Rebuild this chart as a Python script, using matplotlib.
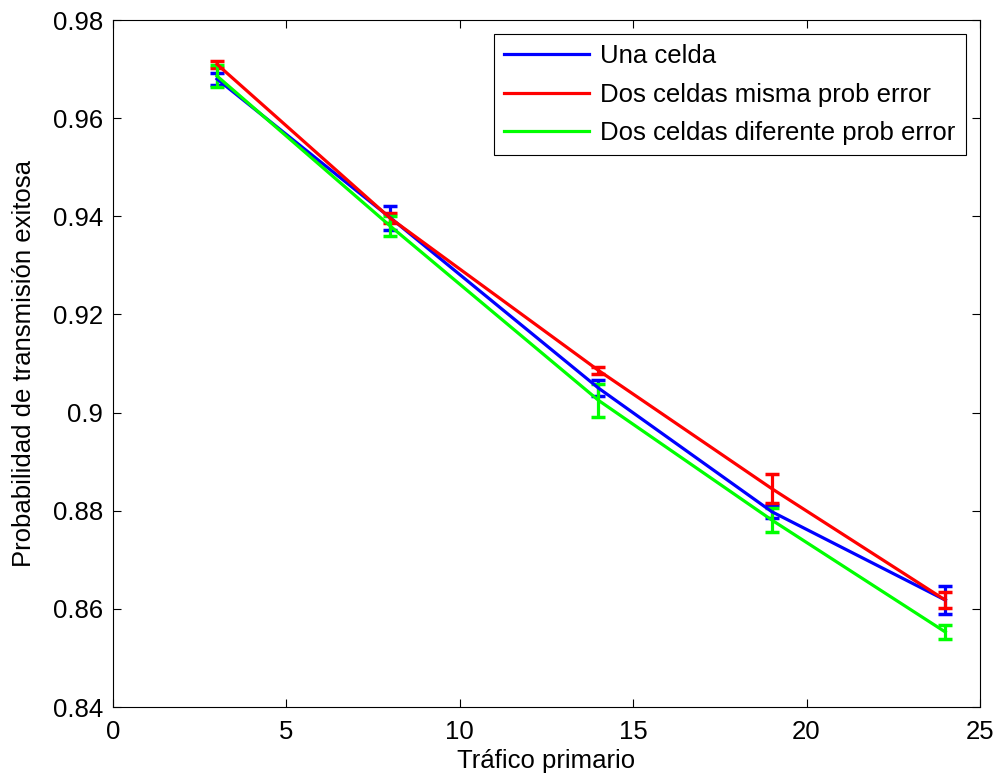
import matplotlib.pyplot as plt

plt.rcParams['font.family'] = ['Liberation Sans', 'DejaVu Sans']

# Data
trafico = [3, 8, 14, 19, 24]

una_celda = [0.9680, 0.9397, 0.9050, 0.8798, 0.8618]
una_celda_err = [0.0012, 0.0024, 0.0017, 0.0013, 0.0029]

misma_prob = [0.9710, 0.9396, 0.9086, 0.8845, 0.8618]
misma_prob_err = [0.0007, 0.0010, 0.0007, 0.0030, 0.0016]

diferente_prob = [0.9686, 0.9380, 0.9025, 0.8781, 0.8553]
diferente_prob_err = [0.0022, 0.0021, 0.0034, 0.0025, 0.0014]

fig = plt.figure(figsize=(9.97, 7.81), dpi=100)
ax = fig.add_axes([0.1133, 0.0947, 0.8696, 0.8796])

series = [
    (una_celda, una_celda_err, '#0000ff', 'Una celda'),
    (misma_prob, misma_prob_err, '#ff0000', 'Dos celdas misma prob error'),
    (diferente_prob, diferente_prob_err, '#00ff00', 'Dos celdas diferente prob error'),
]
lines = []
for vals, errs, col, lab in series:
    eb = ax.errorbar(trafico, vals, yerr=errs, color=col, linewidth=2.3,
                     elinewidth=2.3, capsize=5, capthick=2.5, label=lab)
    lines.append(eb[0])

ax.set_xlim(0, 25)
ax.set_ylim(0.84, 0.98)
ax.set_xticks([0, 5, 10, 15, 20, 25])
ax.set_yticks([0.84, 0.86, 0.88, 0.90, 0.92, 0.94, 0.96, 0.98])
ax.set_yticklabels(['0.84', '0.86', '0.88', '0.9', '0.92', '0.94', '0.96', '0.98'])
ax.tick_params(direction='in', top=True, right=True, labelsize=18.5, length=6)
ax.tick_params(axis='x', pad=9)
ax.tick_params(axis='y', pad=7)
for sp in ax.spines.values():
    sp.set_linewidth(0.8)

ax.set_xlabel('Tráfico primario', fontsize=18.5, labelpad=4)
ax.set_ylabel('Probabilidad de transmisión exitosa', fontsize=18.5, labelpad=12)

leg = ax.legend(lines, [s[3] for s in series], loc='upper right', fontsize=18.5,
                fancybox=False, framealpha=1, edgecolor='black',
                handlelength=3.3, handletextpad=0.45, borderaxespad=0.55,
                labelspacing=0.55, borderpad=0.4)
leg.get_frame().set_linewidth(0.8)

fig.savefig('out.png', dpi=100)
